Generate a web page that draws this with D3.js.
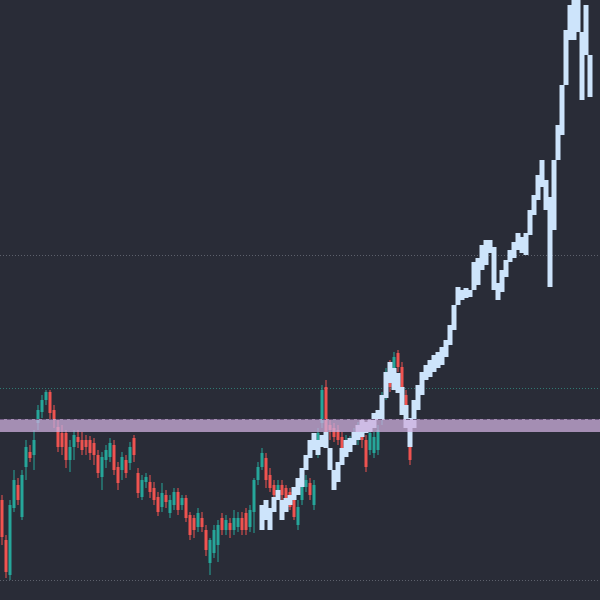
<!DOCTYPE html>
<html>
<head>
<meta charset="utf-8">
<script src="https://cdn.jsdelivr.net/npm/d3@7/dist/d3.min.js"></script>
<style>
  html, body { margin: 0; padding: 0; background: #292c37; }
  svg { display: block; }
</style>
</head>
<body>
<script>
// ---------- DATA ----------
// Main candles (index 0..102): open, close, high, low
const candleOpen  = [10.0,6.0,2.5,9.2,11.5,8.3,13.3,14.8,14.5,17.7,18.8,20.0,20.8,19.0,17.3,16.7,16.7,14.0,15.3,16.3,16.0,16.0,16.0,15.7,14.5,12.3,14.0,14.3,15.5,13.3,13.0,14.0,13.7,16.2,12.7,10.3,11.8,11.8,11.2,10.3,9.3,10.5,8.7,9.5,10.8,9.5,10.2,8.5,8.2,7.3,8.2,7.0,3.7,4.7,5.5,8.2,7.0,7.7,7.0,7.3,8.2,8.7,7.3,8.8,12.0,13.3,14.2,12.5,11.5,10.5,11.5,11.2,10.8,10.0,7.5,10.0,11.3,11.7,9.5,14.7,17.7,21.3,17.5,17.2,17.0,16.3,15.0,15.3,16.0,16.0,16.5,16.0,15.0,14.7,15.0,18.0,20.3,23.5,22.7,24.7,23.3,20.5,17.0];
const candleClose = [6.3,2.8,9.5,12.0,10.0,12.5,15.3,14.2,16.0,19.0,20.0,20.8,18.7,18.0,15.3,15.3,14.0,15.3,16.5,15.8,15.0,15.3,14.7,14.5,12.7,14.3,15.0,15.7,13.0,11.7,14.3,12.7,15.3,14.5,10.7,12.0,12.3,10.8,10.0,8.8,10.7,9.8,10.0,10.8,9.0,10.2,8.2,6.5,7.0,8.7,7.3,5.0,6.0,7.0,7.5,7.0,8.0,7.0,8.2,8.2,7.0,7.0,9.0,12.0,13.3,14.7,12.0,11.2,10.5,11.5,10.5,10.0,9.3,8.3,9.3,11.7,12.0,10.5,11.5,16.7,21.0,16.3,17.0,16.3,16.0,14.7,16.0,16.0,16.7,17.3,16.0,13.3,16.7,16.3,17.0,20.3,22.7,21.3,24.3,23.3,21.0,19.0,14.0];
const candleHigh  = [10.5,6.5,10.0,13.0,12.2,13.0,16.0,15.5,17.0,19.5,20.5,21.0,21.0,19.5,18.0,17.5,17.0,16.0,17.0,17.0,16.8,16.5,16.4,16.2,15.0,14.8,15.5,16.2,16.0,13.8,14.8,14.5,15.8,16.5,13.2,12.5,12.7,12.5,11.8,10.8,11.7,11.0,10.5,11.2,11.2,10.5,10.5,8.8,8.5,9.2,8.8,7.5,6.2,7.5,8.0,8.7,8.5,8.2,9.0,8.8,8.8,9.2,9.5,12.2,13.8,15.2,14.7,13.2,12.0,12.0,12.0,11.5,11.2,10.5,10.0,12.2,12.5,12.2,12.0,17.2,21.5,22.0,18.0,17.7,17.5,16.8,16.5,16.4,17.2,17.8,17.0,16.5,17.2,16.8,17.5,20.8,23.2,24.0,24.8,25.0,23.8,21.0,17.5];
const candleLow   = [5.5,2.2,2.0,8.8,9.5,8.0,12.0,13.8,13.0,17.0,18.2,19.5,18.0,17.2,14.8,14.5,13.2,12.8,14.0,15.2,14.5,14.5,14.0,13.5,12.2,11.0,13.2,13.8,12.5,11.0,12.0,12.2,13.0,13.8,10.2,10.0,11.2,10.2,9.5,8.4,8.8,9.2,8.2,9.0,8.5,9.0,7.8,6.0,6.2,6.8,6.8,4.4,2.5,4.2,3.8,6.5,6.5,6.2,6.5,6.8,6.5,6.5,6.8,6.7,11.5,13.0,11.2,10.8,10.0,10.0,9.8,9.5,9.0,8.0,7.0,9.5,10.8,10.0,9.0,14.2,17.2,15.8,16.0,15.8,15.5,14.2,14.5,14.8,15.5,15.5,15.2,12.8,14.5,14.2,14.5,17.5,20.0,20.8,22.2,22.8,20.5,18.5,13.5];
const candleStart = 0;

// Light-blue overlay series (index 65..147): top and bottom of each bar
const blueHigh = [9.5,10.0,9.2,10.3,11.0,10.0,10.2,10.5,11.3,12.2,13.2,14.5,16.0,16.7,16.0,16.5,16.8,15.0,13.0,13.8,15.2,16.0,16.2,16.8,17.5,18.0,17.8,18.0,18.7,19.0,20.5,22.8,23.8,23.2,22.7,21.3,19.5,18.2,20.0,21.5,22.8,23.5,24.0,24.5,24.8,25.3,26.0,27.5,29.5,31.3,31.0,31.2,31.0,33.8,34.2,35.5,36.0,36.0,35.3,31.7,33.0,34.0,35.0,35.8,36.7,36.3,36.7,39.0,40.5,42.5,44.0,42.0,40.3,44.0,47.5,51.5,57.0,59.5,61.0,61.0,56.5,59.5,54.5];
const blueLow  = [7.0,8.0,7.0,8.8,10.0,8.0,8.8,9.5,10.0,10.5,11.3,13.0,14.2,15.0,14.5,15.3,15.2,13.0,11.0,11.8,13.5,14.3,14.8,15.5,16.0,16.3,16.7,16.8,17.2,18.0,18.0,20.2,21.7,21.0,20.7,18.5,17.2,15.3,17.2,19.0,20.5,22.0,22.3,22.8,23.2,23.5,24.3,25.5,27.0,29.5,30.0,30.2,30.3,31.5,31.5,33.0,33.5,34.7,31.0,30.0,30.8,32.3,33.8,34.2,35.0,34.7,34.5,36.5,38.5,40.0,41.3,39.0,31.3,37.0,44.0,46.5,51.5,56.0,56.0,56.8,50.0,54.5,50.3];
const blueStart = 65;

// Horizontal reference levels and zone
const levelValues = [34.5, 21.2, 2.0];
const levelKinds  = ["grey", "teal", "grey"];
const zoneLow = 16.8, zoneHigh = 18.1;

// ---------- LAYOUT ----------
const W = 600, H = 600;
const slotCount = 150;
const priceDomain = [0, 60];

const svg = d3.select("body").append("svg").attr("width", W).attr("height", H);
svg.append("rect").attr("width", W).attr("height", H).attr("fill", "#292c37");

const x = d3.scaleBand().domain(d3.range(slotCount)).range([0, W]).padding(0);
const y = d3.scaleLinear().domain(priceDomain).range([H, 0]);
const cx = i => x(i) + x.bandwidth() / 2;

const levelColor = { grey: "#5d616c", teal: "#2f7a73" };

// levels
svg.append("g").selectAll("line").data(levelValues).join("line")
  .attr("x1", 0).attr("x2", W)
  .attr("y1", d => Math.round(y(d)) + 0.5).attr("y2", d => Math.round(y(d)) + 0.5)
  .attr("stroke", (d, i) => levelColor[levelKinds[i]])
  .attr("stroke-width", 1)
  .attr("stroke-dasharray", "1,2");

// candles
const candles = candleOpen.map((o, k) => ({
  i: candleStart + k, o, c: candleClose[k], h: candleHigh[k], l: candleLow[k]
}));
const up = "#26a69a", down = "#ef5350";
const cg = svg.append("g");
cg.selectAll("line").data(candles).join("line")
  .attr("x1", d => cx(d.i)).attr("x2", d => cx(d.i))
  .attr("y1", d => y(d.h)).attr("y2", d => y(d.l))
  .attr("stroke", d => d.c >= d.o ? up : down)
  .attr("stroke-width", 1);
const bw = x.bandwidth() * 0.75;
cg.selectAll("rect").data(candles).join("rect")
  .attr("x", d => cx(d.i) - bw / 2)
  .attr("width", bw)
  .attr("y", d => y(Math.max(d.o, d.c)))
  .attr("height", d => Math.max(1, Math.abs(y(d.o) - y(d.c))))
  .attr("fill", d => d.c >= d.o ? up : down);

// light-blue overlay: each bar stretched to reach its predecessor so the
// series reads as one continuous staircase
const blue = blueHigh.map((h, k) => {
  let top = h, bot = blueLow[k];
  if (k > 0) {
    top = Math.max(top, blueLow[k - 1]);
    bot = Math.min(bot, blueHigh[k - 1]);
  }
  return { i: blueStart + k, h: top, l: bot };
});
const bbw = x.bandwidth() * 1.25;
svg.append("g").selectAll("rect").data(blue).join("rect")
  .attr("x", d => cx(d.i) - bbw / 2)
  .attr("width", bbw)
  .attr("y", d => y(d.h))
  .attr("height", d => Math.max(2, y(d.l) - y(d.h)))
  .attr("fill", "#cde4fb");

// zone band
svg.append("rect")
  .attr("x", 0).attr("width", W)
  .attr("y", y(zoneHigh)).attr("height", y(zoneLow) - y(zoneHigh))
  .attr("fill", "rgba(205,175,222,0.75)");
svg.append("line")
  .attr("x1", 0).attr("x2", W)
  .attr("y1", y(zoneHigh) + 0.5).attr("y2", y(zoneHigh) + 0.5)
  .attr("stroke", "#6f5a80").attr("stroke-width", 1)
  .attr("stroke-dasharray", "4,3");
</script>
</body>
</html>
